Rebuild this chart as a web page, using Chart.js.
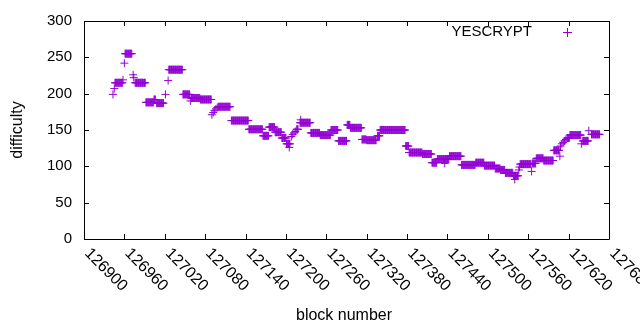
<!DOCTYPE html>
<html>
<head>
<meta charset="utf-8">
<script src="https://cdn.jsdelivr.net/npm/chart.js@4/dist/chart.umd.min.js"></script>
<style>
  body { margin: 0; background: #fff; }
  canvas { display: block; }
</style>
</head>
<body>
<canvas id="chart" width="640" height="330"></canvas>
<script>
// runs of blocks with the same difficulty (from block, to block, difficulty)
const runFrom = [126943, 126945, 126946, 126958, 126960, 126961, 126973, 126974, 126976, 126992,
  127004, 127008, 127021, 127025, 127026, 127047, 127058, 127059, 127073, 127090,
  127092, 127094, 127096, 127098, 127100, 127119, 127145, 127166, 127175, 127184,
  127194, 127201, 127205, 127208, 127210, 127212, 127214, 127216, 127221, 127222,
  127237, 127251, 127267, 127278, 127291, 127296, 127313, 127320, 127336, 127340,
  127378, 127383, 127403, 127417, 127425, 127436, 127443, 127461, 127482, 127495,
  127511, 127519, 127526, 127538, 127540, 127546, 127547, 127548, 127565, 127566,
  127572, 127583, 127598, 127607, 127608, 127610, 127612, 127614, 127616, 127618,
  127622, 127639, 127641, 127650, 127654];
const runTo = [126943, 126945, 126957, 126958, 126960, 126971, 126973, 126974, 126991, 127003,
  127006, 127018, 127021, 127025, 127046, 127057, 127058, 127072, 127089, 127090,
  127092, 127094, 127096, 127098, 127117, 127144, 127165, 127174, 127183, 127193,
  127200, 127206, 127205, 127208, 127210, 127212, 127214, 127218, 127236, 127222,
  127250, 127266, 127277, 127290, 127295, 127312, 127319, 127334, 127339, 127377,
  127382, 127402, 127416, 127424, 127442, 127436, 127460, 127481, 127494, 127510,
  127518, 127525, 127537, 127545, 127540, 127546, 127547, 127564, 127565, 127571,
  127582, 127597, 127606, 127607, 127608, 127610, 127612, 127614, 127616, 127621,
  127638, 127639, 127649, 127650, 127666];
const runDiff = [199, 207, 215, 219, 242, 255, 226, 222, 215, 188,
  192, 187, 199, 218, 233, 199, 190, 194, 192, 171,
  174, 177, 179, 181, 182, 163, 151, 142, 154, 147,
  139, 131, 126, 141, 144, 146, 148, 151, 160, 164,
  146, 143, 150, 135, 157, 153, 137, 136, 142, 150,
  128, 119, 117, 105, 110, 104, 114, 102, 105, 101,
  97, 95, 91, 87, 82, 95, 99, 103, 93, 104,
  111, 108, 122, 114, 128, 131, 133, 135, 137, 139,
  143, 131, 135, 149, 144];

const xTicks = [126900, 126960, 127020, 127080, 127140, 127200, 127260, 127320, 127380, 127440, 127500, 127560, 127620, 127680];
const yTicks = [0, 50, 100, 150, 200, 250, 300];
const seriesName = 'YESCRYPT';
const xTitle = 'block number';
const yTitle = 'difficulty';

const purple = '#9400d3';
const fontFamily = '"Liberation Sans", Arial, sans-serif';
const fontSize = 15;
const bigFont = 16;

const points = [];
runFrom.forEach((from, i) => {
  for (let b = from; b <= runTo[i]; b++) {
    points.push({ x: b, y: runDiff[i] });
  }
});

// gnuplot style frame: box, inward ticks on all sides, rotated x labels, titles, key
const gnuplotFrame = {
  id: 'gnuplotFrame',
  afterDraw(chart) {
    const { ctx, chartArea: a, scales } = chart;
    const x = scales.x, y = scales.y;
    const tl = 5;
    ctx.save();
    ctx.strokeStyle = '#000';
    ctx.lineWidth = 1;
    ctx.beginPath();
    ctx.rect(Math.round(a.left) + 0.5, Math.round(a.top) + 0.5, Math.round(a.right - a.left), Math.round(a.bottom - a.top));
    xTicks.forEach(v => {
      const px = Math.round(x.getPixelForValue(v)) + 0.5;
      ctx.moveTo(px, a.bottom);
      ctx.lineTo(px, a.bottom - tl);
      ctx.moveTo(px, a.top);
      ctx.lineTo(px, a.top + tl);
    });
    yTicks.forEach(v => {
      const py = Math.round(y.getPixelForValue(v)) + 0.5;
      ctx.moveTo(a.left, py);
      ctx.lineTo(a.left + tl, py);
      ctx.moveTo(a.right, py);
      ctx.lineTo(a.right - tl, py);
    });
    ctx.stroke();

    ctx.fillStyle = '#000';
    ctx.font = bigFont + 'px ' + fontFamily;
    xTicks.forEach(v => {
      const px = x.getPixelForValue(v);
      ctx.save();
      ctx.translate(px + 3, a.bottom + 12);
      ctx.rotate(Math.PI / 4);
      ctx.textAlign = 'left';
      ctx.textBaseline = 'middle';
      ctx.fillText(String(v), 0, 0);
      ctx.restore();
    });

    ctx.textAlign = 'center';
    ctx.textBaseline = 'middle';
    ctx.fillText(xTitle, 344, 316);
    ctx.save();
    ctx.translate(18, 130);
    ctx.rotate(-Math.PI / 2);
    ctx.fillText(yTitle, 0, 0);
    ctx.restore();

    // key
    ctx.font = fontSize + 'px ' + fontFamily;
    ctx.textAlign = 'right';
    ctx.fillText(seriesName, 532, 32);
    ctx.strokeStyle = purple;
    ctx.beginPath();
    ctx.moveTo(563, 32.5);
    ctx.lineTo(572, 32.5);
    ctx.moveTo(567.5, 28);
    ctx.lineTo(567.5, 37);
    ctx.stroke();
    ctx.restore();
  }
};

new Chart(document.getElementById('chart'), {
  type: 'scatter',
  data: {
    datasets: [{
      label: seriesName,
      data: points,
      pointStyle: 'cross',
      pointRadius: 4,
      borderColor: purple,
      backgroundColor: purple,
      borderWidth: 1
    }]
  },
  options: {
    responsive: false,
    animation: false,
    events: [],
    layout: { padding: { top: 19, right: 31, left: 0, bottom: 0 } },
    plugins: {
      legend: { display: false },
      tooltip: { enabled: false }
    },
    scales: {
      x: {
        type: 'linear',
        min: 126900,
        max: 127680,
        grid: { display: false },
        border: { display: false },
        ticks: { display: false, stepSize: 60 },
        afterFit(scale) { scale.height = 91; }
      },
      y: {
        min: 0,
        max: 300,
        grid: { display: false, drawTicks: false },
        border: { display: false },
        ticks: {
          stepSize: 50,
          padding: 12,
          color: '#000',
          font: { family: fontFamily, size: fontSize }
        },
        afterFit(scale) { scale.width = 84; }
      }
    }
  },
  plugins: [gnuplotFrame]
});
</script>
</body>
</html>
